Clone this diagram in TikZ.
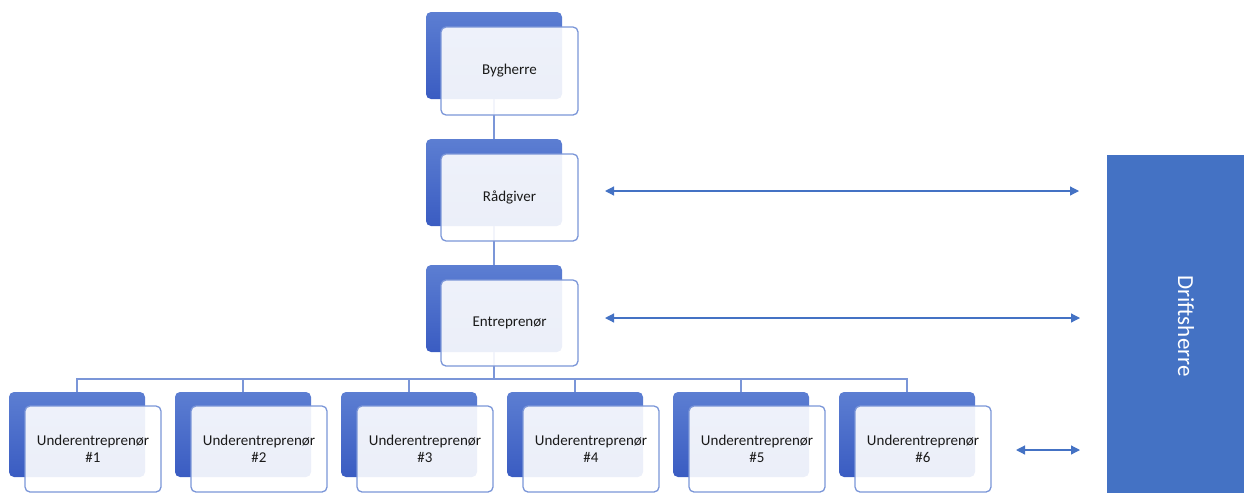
\documentclass[tikz,border=0pt]{standalone}
\usepackage{fontspec}
\setmainfont{Carlito}
\usetikzlibrary{arrows.meta}
\definecolor{obl}{HTML}{4472C4}
\definecolor{bktop}{HTML}{5C7ED2}
\definecolor{bkbot}{HTML}{3A5CC2}
\definecolor{edge}{HTML}{7B96D8}
\definecolor{txt}{HTML}{1A1A1A}
\tikzset{
  x=1pt,y=-1pt,
  backbox/.style={rounded corners=5pt,top color=bktop,bottom color=bkbot,draw=none},
  frontbox/.style={rounded corners=5pt,draw=edge,line width=1.3pt,fill=white,fill opacity=0.9,text opacity=1,
    text=txt,font=\fontsize{15}{17}\selectfont,align=center,inner sep=0pt},
  conn/.style={draw=edge,line width=1.2pt},
  dbl/.style={draw=obl,line width=1.2pt,{Triangle[width=9pt,length=9pt]}-{Triangle[width=9pt,length=9pt]}},
}
\begin{document}
\begin{tikzpicture}
\useasboundingbox (0,0) rectangle (1244,493);
% top chain back boxes
\foreach \n/\y in {a/12,b/139,c/265}{
  \path[backbox] (426,\y) rectangle (562,\y+87);
  \coordinate (\n-top) at (494,\y);
  \coordinate (\n-bot) at (494,\y+87);
}
\foreach \i/\x in {1/9,2/175,3/341,4/507,5/673,6/839}{
  \path[backbox] (\x,392) rectangle (\x+136,477);
  \coordinate (u\i-top) at (\x+68,392);
}
\coordinate (bus) at (494,379);
% connectors
\draw[conn] (a-bot) -- (b-top);
\draw[conn] (b-bot) -- (c-top);
\draw[conn] (c-bot) -- (bus);
\draw[conn] (u1-top) |- (u6-top |- bus) -- (u6-top);
\foreach \i in {2,3,4,5}{\draw[conn] (u\i-top |- bus) -- (u\i-top);}
% front boxes
\node[frontbox,minimum width=137pt,minimum height=88pt] (byg) at (509.5,71) {Bygherre};
\node[frontbox,minimum width=137pt,minimum height=87pt] (rad) at (509.5,197.5) {Rådgiver};
\node[frontbox,minimum width=137pt,minimum height=86pt] (ent) at (509.5,323) {Entreprenør};
\foreach \i/\x in {1/25,2/191,3/357,4/523,5/689,6/855}{
  \node[frontbox,minimum width=136pt,minimum height=86pt] (f\i) at (\x+68,449) {Underentreprenør\\\#\i};
}
% Driftsherre
\node[fill=obl,minimum width=137pt,minimum height=338pt,inner sep=0pt] (drift) at (1175.5,324) {};
\node[rotate=-90,text=white,font=\fontsize{23}{26}\selectfont] (dlab) at (1186,326) {Driftsherre};
\coordinate (r1) at (605,191);
\coordinate (r2) at (1079,191);
\coordinate (e1) at (605,318);
\coordinate (e2) at (1080,318);
\coordinate (s1) at (1016,450);
\coordinate (s2) at (1080,450);
\draw[dbl] (r1) -- (r2);
\draw[dbl] (e1) -- (e2);
\draw[dbl] (s1) -- (s2);
\end{tikzpicture}
\end{document}
